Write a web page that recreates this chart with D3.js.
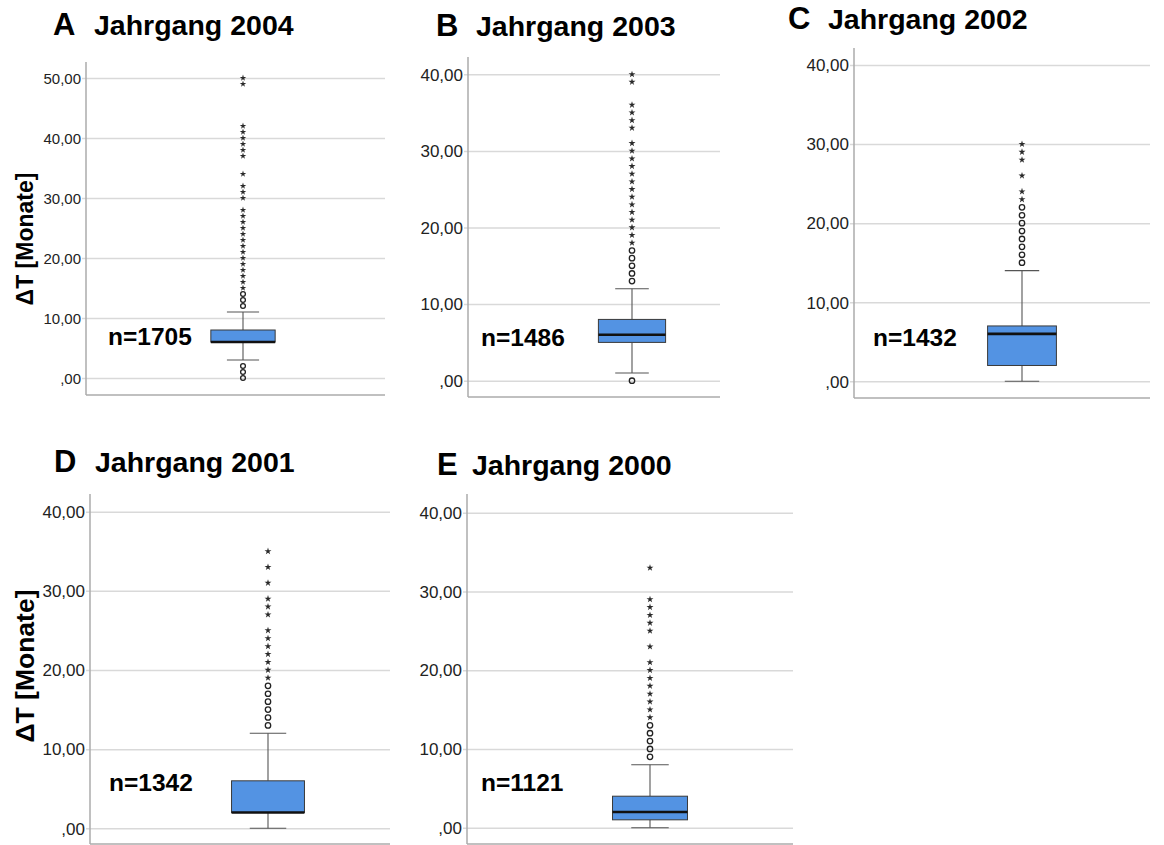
<!DOCTYPE html>
<html>
<head>
<meta charset="utf-8">
<script src="https://cdn.jsdelivr.net/npm/d3@7"></script>
<style>
  html, body { margin: 0; padding: 0; background: #fff; }
  svg { display: block; font-family: "Liberation Sans", Arial, sans-serif; }
</style>
</head>
<body>
<svg id="chart" width="1164" height="845"></svg>
<script>
// Box plot statistics of ΔT (months) per cohort
const panelLetters = ["A", "B", "C", "D", "E"];
const cohorts = ["2004", "2003", "2002", "2001", "2000"];
const sampleSizes = [1705, 1486, 1432, 1342, 1121];
const lowerWhisker = [3, 1, 0, 0, 0];
const quartile1 = [6, 5, 2, 2, 1];
const medians = [6, 6, 6, 2, 2];
const quartile3 = [8, 8, 7, 6, 4];
const upperWhisker = [11, 12, 14, 12, 8];
// outliers (1.5–3 IQR) drawn as circles
const outliers = [
  [0, 1, 2, 12, 13, 14],
  [0, 13, 14, 15, 16, 17],
  [15, 16, 17, 18, 19, 20, 21, 22],
  [13, 14, 15, 16, 17, 18],
  [9, 10, 11, 12, 13]
];
// extreme values (> 3 IQR) drawn as stars
const extremes = [
  [15, 16, 17, 18, 19, 20, 21, 22, 23, 24, 25, 26, 27, 28, 30, 31, 32, 34, 37, 38, 39, 40, 41, 42, 49, 50],
  [18, 19, 20, 21, 22, 23, 24, 25, 26, 27, 28, 29, 30, 31, 33, 34, 35, 36, 39, 40],
  [23, 24, 26, 28, 29, 30],
  [19, 20, 21, 22, 23, 24, 25, 27, 28, 29, 31, 33, 35],
  [14, 15, 16, 17, 18, 19, 20, 21, 23, 25, 26, 27, 28, 29, 33]
];
const yTicks = [
  [0, 10, 20, 30, 40, 50],
  [0, 10, 20, 30, 40],
  [0, 10, 20, 30, 40],
  [0, 10, 20, 30, 40],
  [0, 10, 20, 30, 40]
];

// Panel geometry (pixels)
const layout = [
  { axisX: 86,  plotW: 314, visRight: 385,  top: 62,  bottom: 395, yZero: 378,   yTop: 78,    tickSize: 15, title: { lx: 53,  tx: 94,  by: 35 },  n: { x: 108, y: 345 }, yLabel: { x: 25, y: 239, size: 23 } },
  { axisX: 468, plotW: 328, visRight: 720,  top: 57,  bottom: 397, yZero: 380.7, yTop: 74.3,  tickSize: 17, title: { lx: 436, tx: 476, by: 36 },  n: { x: 481, y: 346 } },
  { axisX: 854, plotW: 336, visRight: 1150, top: 48,  bottom: 398, yZero: 381.3, yTop: 65,    tickSize: 17, title: { lx: 788, tx: 828, by: 29 },  n: { x: 873, y: 346 } },
  { axisX: 90,  plotW: 356, visRight: 390,  top: 494, bottom: 844, yZero: 828.3, yTop: 511.7, tickSize: 17, title: { lx: 54,  tx: 95,  by: 472 }, n: { x: 109, y: 791 }, yLabel: { x: 25, y: 666, size: 26.5 } },
  { axisX: 467, plotW: 366, visRight: 793,  top: 494, bottom: 844, yZero: 827.7, yTop: 512.7, tickSize: 17, title: { lx: 437, tx: 472, by: 475 }, n: { x: 481, y: 791 } }
];

const BOX_FILL = "#5393e3";
const GRID = "#d9d9d9";
const AXIS = "#ababab";

const fmt = v => {
  const s = d3.format(".2f")(v).replace(".", ",");
  return s.startsWith("0,") ? s.slice(1) : s;
};

const svg = d3.select("#chart");

panelLetters.forEach((letter, i) => {
  const L = layout[i];
  const ticks = yTicks[i];
  const g = svg.append("g");

  const y = d3.scaleLinear()
    .domain([0, ticks[ticks.length - 1]])
    .range([L.yZero, L.yTop]);

  const x = d3.scaleBand()
    .domain([cohorts[i]])
    .range([L.axisX, L.axisX + L.plotW])
    .paddingInner(0.66)
    .paddingOuter(0.66);

  const bw = x.bandwidth();
  const cx = x(cohorts[i]) + bw / 2;

  // horizontal grid lines with small ticks via d3 axis
  const yAxis = d3.axisLeft(y)
    .tickValues(ticks)
    .tickSize(-(L.visRight - L.axisX))
    .tickSizeOuter(0)
    .tickFormat(fmt);

  const ax = g.append("g")
    .attr("transform", `translate(${L.axisX},0)`)
    .call(yAxis);
  ax.select(".domain").remove();
  ax.selectAll(".tick line")
    .attr("x1", -4)
    .attr("stroke", GRID)
    .attr("stroke-width", 1.5);
  ax.selectAll(".tick text")
    .attr("x", -5)
    .attr("dy", "0.34em")
    .attr("fill", "#222")
    .style("font-size", L.tickSize + "px")
    .style("font-family", '"Liberation Sans", Arial, sans-serif');

  // axis frame lines (left and bottom)
  g.append("line")
    .attr("x1", L.axisX).attr("x2", L.axisX)
    .attr("y1", L.top).attr("y2", L.bottom)
    .attr("stroke", AXIS).attr("stroke-width", 1.5);
  g.append("line")
    .attr("x1", L.axisX).attr("x2", L.visRight)
    .attr("y1", L.bottom).attr("y2", L.bottom)
    .attr("stroke", AXIS).attr("stroke-width", 1.5);

  // plot marks drawn above the grid
  const clipId = "clip" + i;
  g.append("clipPath").attr("id", clipId)
    .append("rect")
    .attr("x", L.axisX - 10).attr("y", L.top - 5)
    .attr("width", L.visRight - L.axisX + 10).attr("height", L.bottom - L.top + 10);
  const plot = g.append("g").attr("clip-path", `url(#${clipId})`);

  // whisker stems
  plot.append("line")
    .attr("x1", cx).attr("x2", cx)
    .attr("y1", y(upperWhisker[i])).attr("y2", y(quartile3[i]))
    .attr("stroke", "#555").attr("stroke-width", 1.1);
  plot.append("line")
    .attr("x1", cx).attr("x2", cx)
    .attr("y1", y(lowerWhisker[i])).attr("y2", y(quartile1[i]))
    .attr("stroke", "#555").attr("stroke-width", 1.1);
  // whisker caps
  [upperWhisker[i], lowerWhisker[i]].forEach(v => {
    plot.append("line")
      .attr("x1", cx - bw / 4).attr("x2", cx + bw / 4)
      .attr("y1", y(v)).attr("y2", y(v))
      .attr("stroke", "#555").attr("stroke-width", 1.1);
  });

  // box
  plot.append("rect")
    .attr("x", x(cohorts[i]))
    .attr("y", y(quartile3[i]))
    .attr("width", bw)
    .attr("height", y(quartile1[i]) - y(quartile3[i]))
    .attr("fill", BOX_FILL)
    .attr("stroke", "#3a3a3a")
    .attr("stroke-width", 1);

  // median
  plot.append("line")
    .attr("x1", x(cohorts[i])).attr("x2", x(cohorts[i]) + bw)
    .attr("y1", y(medians[i])).attr("y2", y(medians[i]))
    .attr("stroke", "#111").attr("stroke-width", 2.6);

  // outliers
  plot.selectAll("circle.out")
    .data(outliers[i])
    .join("circle")
    .attr("class", "out")
    .attr("cx", cx)
    .attr("cy", d => y(d))
    .attr("r", i === 0 ? 2.4 : 2.7)
    .attr("fill", "none")
    .attr("stroke", "#222")
    .attr("stroke-width", 1.3);

  // extremes
  const star = d3.symbol().type(d3.symbolStar).size(i === 0 ? 13 : 15);
  plot.selectAll("path.ext")
    .data(extremes[i])
    .join("path")
    .attr("class", "ext")
    .attr("d", star)
    .attr("transform", d => `translate(${cx},${y(d)})`)
    .attr("fill", "#2a2a2a");

  // panel title
  g.append("text")
    .attr("x", L.title.lx).attr("y", L.title.by)
    .attr("font-weight", "bold")
    .attr("font-size", 31)
    .attr("fill", "#000")
    .text(letter);
  g.append("text")
    .attr("x", L.title.tx).attr("y", L.title.by)
    .attr("font-weight", "bold")
    .attr("font-size", 28.5)
    .attr("fill", "#000")
    .text("Jahrgang " + cohorts[i]);

  // sample size label
  g.append("text")
    .attr("x", L.n.x).attr("y", L.n.y)
    .attr("font-weight", "bold")
    .attr("font-size", 24.5)
    .attr("fill", "#000")
    .text("n=" + sampleSizes[i]);

  // y axis title
  if (L.yLabel) {
    g.append("text")
      .attr("transform", `translate(${L.yLabel.x},${L.yLabel.y}) rotate(-90)`)
      .attr("text-anchor", "middle")
      .attr("dominant-baseline", "central")
      .attr("font-weight", "bold")
      .attr("font-size", L.yLabel.size)
      .attr("fill", "#000")
      .text("ΔT [Monate]");
  }
});
</script>
</body>
</html>
